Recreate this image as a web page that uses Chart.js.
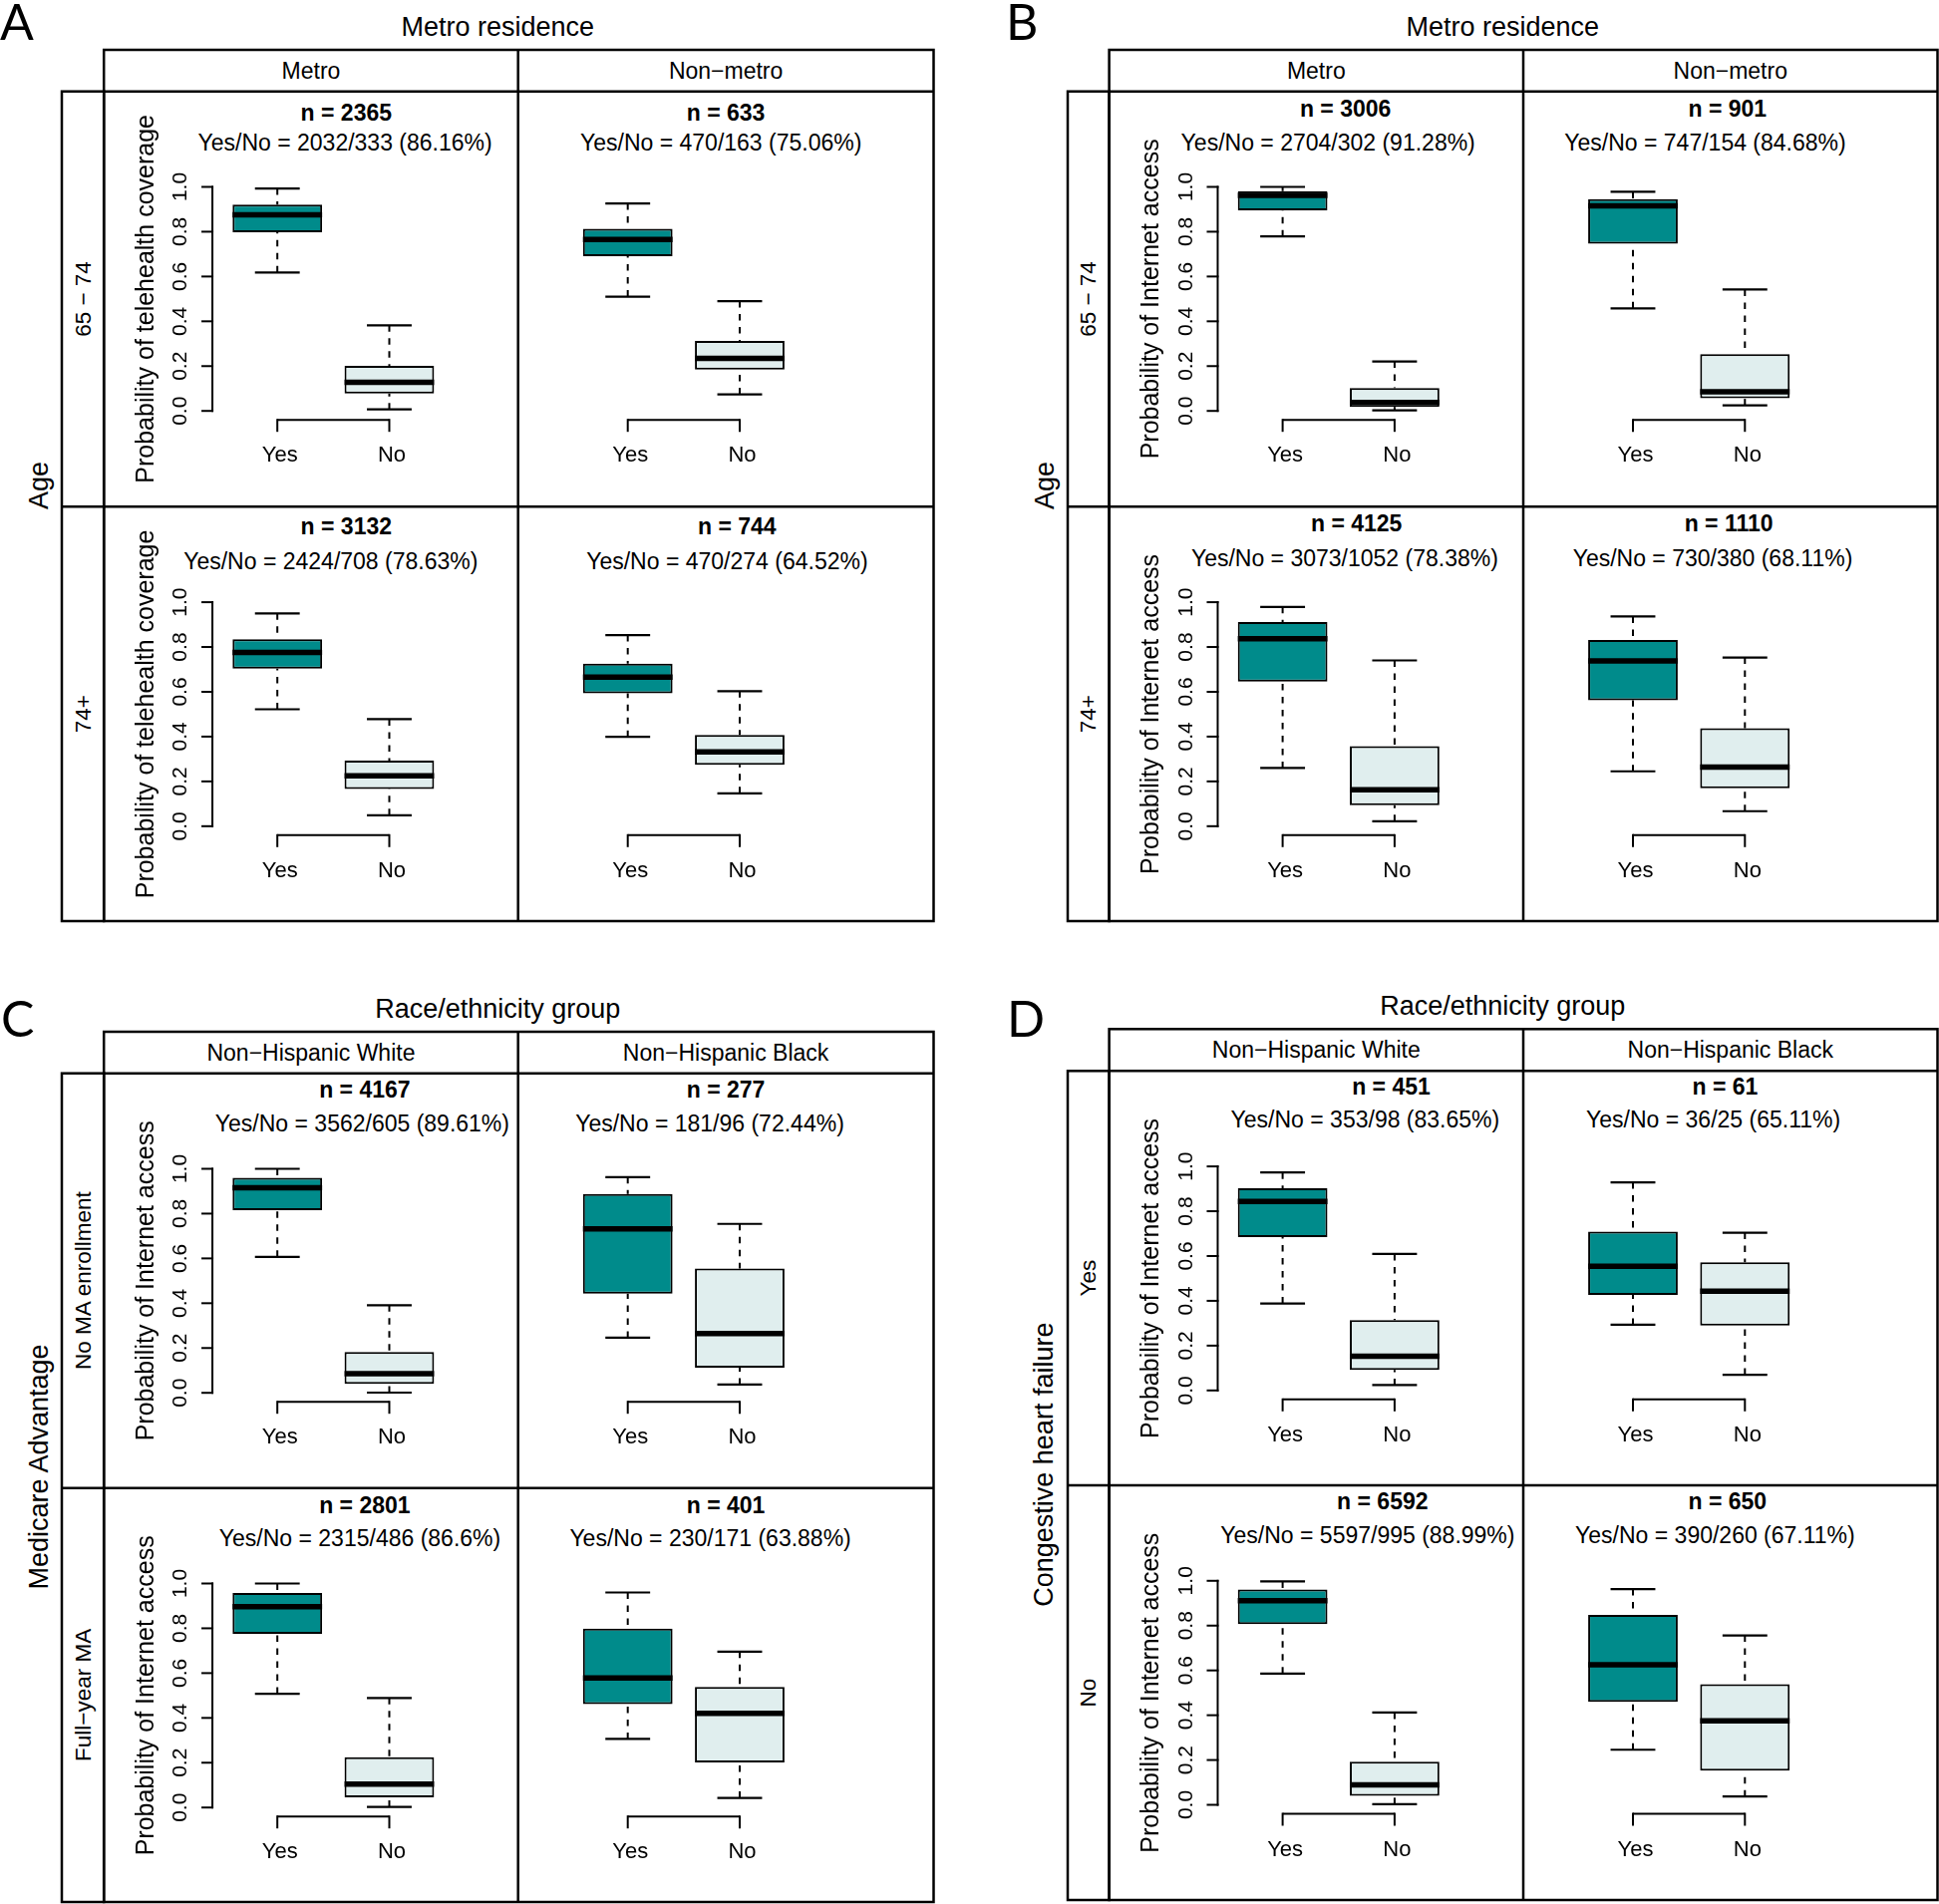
<!DOCTYPE html>
<html><head><meta charset="utf-8">
<script src="https://cdn.jsdelivr.net/npm/chart.js@4.4.1/dist/chart.umd.min.js"></script>
<style>
html,body{margin:0;padding:0;background:#fff;}
#wrap{position:relative;width:1945px;height:1910px;overflow:hidden;background:#fff;}
#wrap canvas{position:absolute;}
#frame{position:absolute;left:0;top:0;}
</style></head>
<body><div id="wrap"><svg id="frame" width="1945" height="1910" xmlns="http://www.w3.org/2000/svg"></svg></div>
<script>
// ---------------- DATA ----------------
const groups = ['Yes', 'No'];
const yTickValues = [0, 0.2, 0.4, 0.6, 0.8, 1.0];

// Box statistics per cell: [min, q1, median, q3, max]; cell order: row1-col1, row1-col2, row2-col1, row2-col2
const A_yes = [[0.618,0.797,0.875,0.921,0.993],[0.510,0.691,0.765,0.813,0.926],[0.522,0.703,0.776,0.835,0.950],[0.399,0.593,0.666,0.726,0.853]];
const A_no  = [[0.007,0.078,0.128,0.201,0.382],[0.074,0.184,0.235,0.312,0.490],[0.049,0.166,0.225,0.293,0.478],[0.147,0.274,0.332,0.407,0.603]];
const B_yes = [[0.779,0.895,0.962,0.981,1.000],[0.458,0.746,0.915,0.945,0.978],[0.260,0.646,0.837,0.911,0.979],[0.245,0.562,0.738,0.831,0.936]];
const B_no  = [[0.003,0.018,0.038,0.102,0.221],[0.025,0.057,0.085,0.254,0.542],[0.022,0.094,0.163,0.357,0.740],[0.067,0.169,0.264,0.438,0.753]];
const C_yes = [[0.607,0.815,0.915,0.960,1.000],[0.246,0.443,0.732,0.888,0.963],[0.508,0.775,0.896,0.958,1.000],[0.306,0.462,0.578,0.799,0.960]];
const C_no  = [[0.001,0.040,0.086,0.182,0.391],[0.037,0.112,0.265,0.555,0.754],[0.003,0.045,0.104,0.224,0.489],[0.043,0.201,0.420,0.538,0.696]];
const D_yes = [[0.388,0.685,0.844,0.903,0.973],[0.293,0.426,0.554,0.709,0.929],[0.586,0.807,0.911,0.961,0.997],[0.246,0.460,0.625,0.848,0.963]];
const D_no  = [[0.024,0.092,0.153,0.314,0.609],[0.070,0.290,0.443,0.572,0.704],[0.003,0.040,0.089,0.192,0.412],[0.037,0.152,0.375,0.539,0.756]];

// Sample sizes per cell
const A_n = [2365, 633, 3132, 744];
const A_nYes = [2032, 470, 2424, 470];
const A_nNo = [333, 163, 708, 274];
const A_pct = [86.16, 75.06, 78.63, 64.52];
const B_n = [3006, 901, 4125, 1110];
const B_nYes = [2704, 747, 3073, 730];
const B_nNo = [302, 154, 1052, 380];
const B_pct = [91.28, 84.68, 78.38, 68.11];
const C_n = [4167, 277, 2801, 401];
const C_nYes = [3562, 181, 2315, 230];
const C_nNo = [605, 96, 486, 171];
const C_pct = [89.61, 72.44, 86.6, 63.88];
const D_n = [451, 61, 6592, 650];
const D_nYes = [353, 36, 5597, 390];
const D_nNo = [98, 25, 995, 260];
const D_pct = [83.65, 65.11, 88.99, 67.11];

// Labels
const titlesAB = 'Metro residence';
const titlesCD = 'Race/ethnicity group';
const colLabelsAB = ['Metro', 'Non\u2212metro'];
const colLabelsCD = ['Non\u2212Hispanic White', 'Non\u2212Hispanic Black'];
const rowLabelsAB = ['65 \u2212 74', '74+'];
const rowLabelsC = ['No MA enrollment', 'Full\u2212year MA'];
const rowLabelsD = ['Yes', 'No'];
const outerLabels = ['Age', 'Age', 'Medicare Advantage', 'Congestive heart failure'];
const yTitles = ['Probability of telehealth coverage', 'Probability of Internet access', 'Probability of Internet access', 'Probability of Internet access'];

// ---------------- LAYOUT (positions / styles) ----------------
const FONT = '"Liberation Sans", Arial, Helvetica, sans-serif';
const TEAL = '#008B8B';
const LIGHT = '#E0EEEE';

const layout = [
  {letter:'A', lx:0, ly:39.5, x0:62, cl:104.2, mid:519.7, right:936.5, st:50, rt:91.7, rm:508.3, bot:924, ty:26.7, ox:39,
   dy:[[21.6,51.6],[20,55]], nx:[347.3,728.1,347.3,739.3], yx:[346.1,723.2,331.8,729.4]},
  {letter:'B', lx:1009, ly:39.5, x0:1071, cl:1112.6, mid:1528, right:1943.5, st:50, rt:91.7, rm:508.3, bot:924, ty:26.7, ox:1048,
   dy:[[17.6,51.6],[16.7,51.7]], nx:[1349.6,1732.8,1360.7,1734.1], yx:[1332.2,1710.5,1348.9,1718]},
  {letter:'C', lx:1, ly:1040, x0:62, cl:104.2, mid:519.7, right:936.5, st:1035, rt:1076.7, rm:1492.7, bot:1908, ty:1011.7, ox:39,
   dy:[[16.6,50],[17.3,50.6]], nx:[365.9,728.1,365.9,728.1], yx:[363.4,712,361,712.6]},
  {letter:'D', lx:1010, ly:1040, x0:1071, cl:1112.6, mid:1528, right:1943.5, st:1032.3, rt:1074.3, rm:1490, bot:1906, ty:1009.3, ox:1047,
   dy:[[15.7,48.4],[16,50]], nx:[1395.5,1730.4,1386.8,1732.8], yx:[1369.4,1718.6,1371.9,1720.4]}
];

const panelData = [
  {yes:A_yes, no:A_no, n:A_n, ny:A_nYes, nn:A_nNo, pct:A_pct, title:titlesAB, cols:colLabelsAB, rows:rowLabelsAB},
  {yes:B_yes, no:B_no, n:B_n, ny:B_nYes, nn:B_nNo, pct:B_pct, title:titlesAB, cols:colLabelsAB, rows:rowLabelsAB},
  {yes:C_yes, no:C_no, n:C_n, ny:C_nYes, nn:C_nNo, pct:C_pct, title:titlesCD, cols:colLabelsCD, rows:rowLabelsC},
  {yes:D_yes, no:D_no, n:D_n, ny:D_nYes, nn:D_nNo, pct:D_pct, title:titlesCD, cols:colLabelsCD, rows:rowLabelsD}
];

// ---------------- FRAME + TEXT (SVG) ----------------
const svg = document.getElementById('frame');
const NS = 'http://www.w3.org/2000/svg';
function el(tag, attrs, text) {
  const e = document.createElementNS(NS, tag);
  for (const k in attrs) e.setAttribute(k, attrs[k]);
  if (text !== undefined) e.textContent = text;
  svg.appendChild(e);
  return e;
}
function txt(x, y, s, size, opts = {}) {
  const a = {x: x, y: y, 'font-family': FONT, 'font-size': size, 'text-anchor': opts.anchor || 'middle',
             'dominant-baseline': opts.baseline || 'central', fill: '#000'};
  if (opts.weight) a['font-weight'] = opts.weight;
  if (opts.family) a['font-family'] = opts.family;
  if (opts.rotate) a.transform = `rotate(-90 ${x} ${y})`;
  return el('text', a, s);
}
const LW = 2.5;
layout.forEach((L, p) => {
  const D = panelData[p];
  // lines
  el('rect', {x:L.cl, y:L.st, width:L.right - L.cl, height:L.bot - L.st, fill:'none', stroke:'#000', 'stroke-width':LW});
  el('rect', {x:L.x0, y:L.rt, width:L.cl - L.x0, height:L.bot - L.rt, fill:'none', stroke:'#000', 'stroke-width':LW});
  el('line', {x1:L.cl, y1:L.rt, x2:L.right, y2:L.rt, stroke:'#000', 'stroke-width':LW});
  el('line', {x1:L.x0, y1:L.rm, x2:L.right, y2:L.rm, stroke:'#000', 'stroke-width':LW});
  el('line', {x1:L.mid, y1:L.st, x2:L.mid, y2:L.bot, stroke:'#000', 'stroke-width':LW});
  // panel letter
  txt(L.lx, L.ly, L.letter, 50, {anchor:'start', baseline:'alphabetic', family:'Lato, "Open Sans", sans-serif', weight:400});
  // panel title
  txt((L.x0 + L.right) / 2, L.ty, D.title, 27);
  // strip labels
  txt((L.cl + L.mid) / 2, (L.st + L.rt) / 2, D.cols[0], 23);
  txt((L.mid + L.right) / 2, (L.st + L.rt) / 2, D.cols[1], 23);
  // row labels
  txt((L.x0 + L.cl) / 2, (L.rt + L.rm) / 2, D.rows[0], 22.5, {rotate:true});
  txt((L.x0 + L.cl) / 2, (L.rm + L.bot) / 2, D.rows[1], 22.5, {rotate:true});
  // outer label
  txt(L.ox, (L.st + L.bot) / 2, outerLabels[p], 27, {rotate:true});
  // cell headings
  for (let i = 0; i < 4; i++) {
    const r = Math.floor(i / 2);
    const top = r === 0 ? L.rt : L.rm;
    txt(L.nx[i], top + L.dy[r][0], 'n = ' + D.n[i], 23, {weight:'bold'});
    txt(L.yx[i], top + L.dy[r][1], 'Yes/No = ' + D.ny[i] + '/' + D.nn[i] + ' (' + D.pct[i] + '%)', 23);
  }
});

// ---------------- CHARTS ----------------
const CW = 416, CH = 416;
const Y_MIN = -0.04, Y_MAX = 1.04;

const rBoxPlugin = {
  id: 'rbox',
  beforeDatasetsDraw(chart) {
    const o = chart.options.plugins.rbox;
    const ctx = chart.ctx, y = chart.scales.y, x = chart.scales.x;
    const meta = chart.getDatasetMeta(0);
    const line = (a, b, c, d) => { ctx.beginPath(); ctx.moveTo(a, b); ctx.lineTo(c, d); ctx.stroke(); };
    ctx.save();
    ctx.strokeStyle = '#000';
    ctx.lineCap = 'butt';
    o.stats.forEach((s, i) => {
      const bar = meta.data[i];
      const cx = bar.x, hw = bar.width / 2;
      ctx.lineWidth = 2;
      ctx.setLineDash([6.5, 6.5]);
      line(cx, y.getPixelForValue(s[4]), cx, y.getPixelForValue(s[3]));
      line(cx, y.getPixelForValue(s[0]), cx, y.getPixelForValue(s[1]));
      ctx.setLineDash([]);
      ctx.lineWidth = 2.2;
      line(cx - hw / 2, y.getPixelForValue(s[4]), cx + hw / 2, y.getPixelForValue(s[4]));
      line(cx - hw / 2, y.getPixelForValue(s[0]), cx + hw / 2, y.getPixelForValue(s[0]));
    });
    // axes drawn from the scales
    const px1 = x.getPixelForValue(0), px2 = x.getPixelForValue(1), step = px2 - px1;
    const yb = y.getPixelForValue(Y_MIN);
    ctx.lineWidth = 2;
    line(px1, yb, px2, yb);
    line(px1, yb - 1, px1, yb + 12);
    line(px2, yb - 1, px2, yb + 12);
    ctx.fillStyle = '#000';
    ctx.font = '22px ' + FONT;
    ctx.textAlign = 'center';
    ctx.textBaseline = 'middle';
    groups.forEach((g, i) => ctx.fillText(g, x.getPixelForValue(i) + 2.5, yb + 36));
    if (o.showY) {
      const ax = px1 - 0.58 * step;
      line(ax, y.getPixelForValue(0) + 1, ax, y.getPixelForValue(1) - 1);
      ctx.font = '21px ' + FONT;
      yTickValues.forEach(v => {
        const py = y.getPixelForValue(v);
        line(ax + 1, py, ax - 11, py);
        ctx.save();
        ctx.translate(ax - 31.5, py);
        ctx.rotate(-Math.PI / 2);
        ctx.fillText(v.toFixed(1), 0, 0);
        ctx.restore();
      });
      ctx.save();
      ctx.font = '25px ' + FONT;
      ctx.translate(ax - 66, (y.getPixelForValue(Y_MIN) + y.getPixelForValue(Y_MAX)) / 2);
      ctx.rotate(-Math.PI / 2);
      ctx.fillText(o.yTitle, 0, 0);
      ctx.restore();
    }
    ctx.restore();
  },
  afterDatasetsDraw(chart) {
    const o = chart.options.plugins.rbox;
    const ctx = chart.ctx, y = chart.scales.y;
    const meta = chart.getDatasetMeta(0);
    ctx.save();
    ctx.strokeStyle = '#000';
    ctx.lineWidth = 5.5;
    ctx.lineCap = 'butt';
    o.stats.forEach((s, i) => {
      const bar = meta.data[i];
      const py = y.getPixelForValue(s[2]);
      ctx.beginPath();
      ctx.moveTo(bar.x - bar.width / 2, py);
      ctx.lineTo(bar.x + bar.width / 2, py);
      ctx.stroke();
    });
    ctx.restore();
  }
};

const wrap = document.getElementById('wrap');
layout.forEach((L, p) => {
  const D = panelData[p];
  for (let i = 0; i < 4; i++) {
    const r = Math.floor(i / 2), c = i % 2;
    const left = Math.round(c === 0 ? L.cl : L.mid) + 1;
    const top = Math.round(r === 0 ? L.rt : L.rm) + 1;
    const cv = document.createElement('canvas');
    cv.width = CW; cv.height = CH;
    cv.style.left = left + 'px'; cv.style.top = top + 'px';
    cv.style.width = CW + 'px'; cv.style.height = CH + 'px';
    wrap.appendChild(cv);
    // Yes-box centre relative to the cell
    const yesCentre = (c === 0 ? L.cl + 174 : L.mid + 110) - left;
    const plotW = 224.6;
    const padL = yesCentre - plotW / 4;
    const cellTop = r === 0 ? L.rt : L.rm;
    const padT = cellTop + 86.8 - top;
    const padB = CH - (cellTop + 329.5 - top);
    const stats = [D.yes[i], D.no[i]];
    new Chart(cv, {
      type: 'bar',
      data: {
        labels: groups,
        datasets: [{
          data: stats.map(s => [s[1], s[3]]),
          backgroundColor: [TEAL, LIGHT],
          borderColor: '#000',
          borderWidth: 2,
          borderSkipped: false,
          barPercentage: 0.8,
          categoryPercentage: 1.0
        }]
      },
      options: {
        responsive: false,
        animation: false,
        devicePixelRatio: 1,
        events: [],
        layout: {padding: {left: padL, right: CW - padL - plotW, top: padT, bottom: padB}},
        scales: {
          x: {type: 'category', offset: true, display: false},
          y: {type: 'linear', min: Y_MIN, max: Y_MAX, display: false}
        },
        plugins: {
          legend: {display: false},
          tooltip: {enabled: false},
          title: {display: false},
          rbox: {stats: stats, showY: c === 0, yTitle: yTitles[p]}
        }
      },
      plugins: [rBoxPlugin]
    });
  }
});
</script>
</body></html>
